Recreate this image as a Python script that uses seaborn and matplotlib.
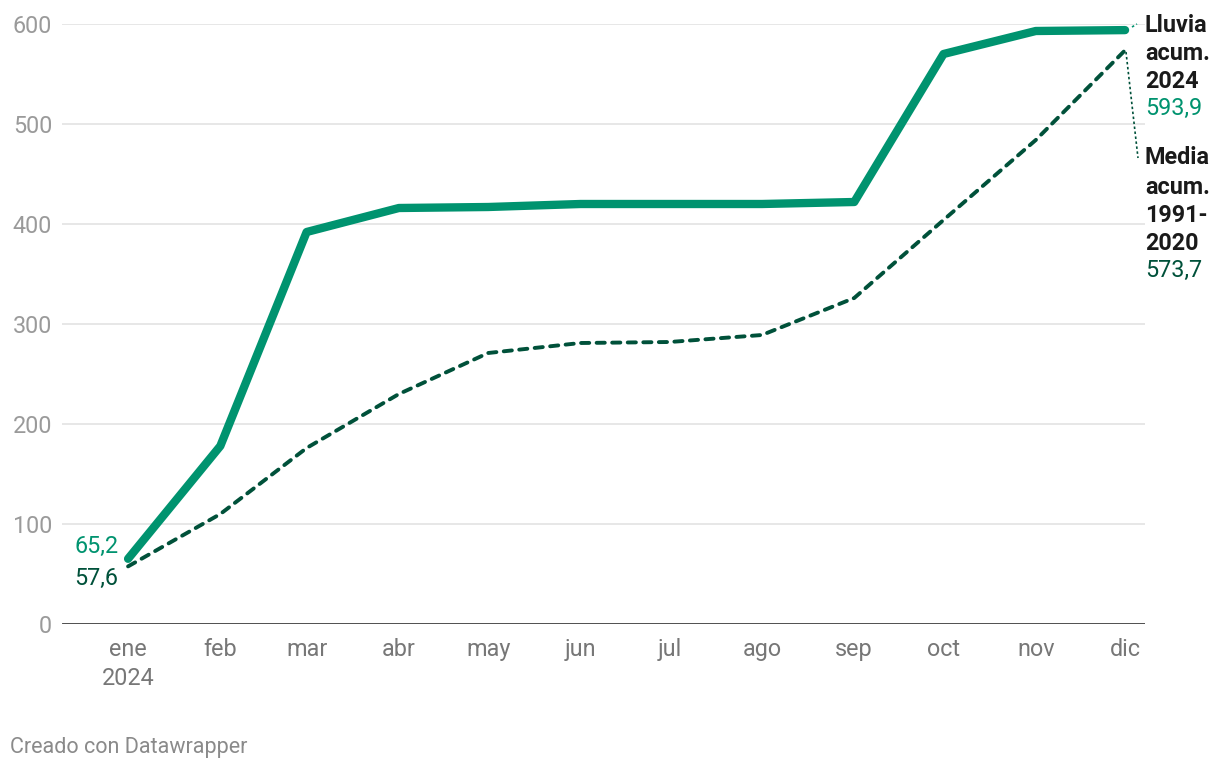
import matplotlib
matplotlib.use("Agg")
import matplotlib.pyplot as plt
import matplotlib.dates as mdates
import seaborn as sns
import pandas as pd
import numpy as np

months = ["ene\n2024", "feb", "mar", "abr", "may", "jun", "jul", "ago", "sep", "oct", "nov", "dic"]
dates = pd.date_range("2024-01-01", periods=12, freq="MS")
lluvia_2024 = [65.2, 178, 392, 416, 417, 420, 420, 420, 422, 570, 593, 593.9]
media_1991_2020 = [57.6, 110, 176, 230, 271, 281, 282, 289, 326, 404, 484, 573.7]

sns.set_theme(style="white")
plt.rcParams['font.family'] = ['Roboto', 'DejaVu Sans']

GREEN = "#00936f"
DARK = "#00513a"
FS = 16.8

fig = plt.figure(figsize=(12.2, 7.7), dpi=100)
ax = fig.add_axes([62/1220, 1-624/770, (1145-62)/1220, 600/770])

df = pd.DataFrame({"fecha": dates, "lluvia": lluvia_2024, "media": media_1991_2020})

for y in [100, 200, 300, 400, 500, 600]:
    ax.axhline(y, color="#e3e3e3", lw=1.2, zorder=0)
ax.axhline(0, color="#1a1a1a", lw=1.8, zorder=3)

sns.lineplot(data=df, x="fecha", y="media", ax=ax, color=DARK, lw=2.8,
             linestyle=(0, (2.1, 1.9)), zorder=4, clip_on=False)
ax.lines[-1].set_dash_capstyle("round")
sns.lineplot(data=df, x="fecha", y="lluvia", ax=ax, color=GREEN, lw=6,
             zorder=5, clip_on=False, solid_capstyle="round")

x0 = mdates.date2num(dates[0])
xn = mdates.date2num(dates[-1])
ax.set_xlim(x0 - 22.2, xn + 6.7)
ax.set_ylim(0, 600)
ax.set_xticks(dates)
ax.set_xticklabels(months, color="#777777", fontsize=FS, linespacing=1.35)
ax.set_yticks([0, 100, 200, 300, 400, 500, 600])
ax.set_yticklabels(["0", "100", "200", "300", "400", "500", "600"], color="#9a9a9a", fontsize=FS)
ax.tick_params(axis="x", length=0, pad=10)
ax.tick_params(axis="y", length=0, pad=7)
ax.set_xlabel("")
ax.set_ylabel("")
for s in ax.spines.values():
    s.set_visible(False)

# start labels
ax.text(x0 - 3.3, lluvia_2024[0] + 12, "65,2", color=GREEN, fontsize=FS, ha="right", va="center")
ax.text(x0 - 3.3, media_1991_2020[0] - 12, "57,6", color=DARK, fontsize=FS, ha="right", va="center")

# end labels
tx = 1145/1220
def ft(ypx, s, **kw):
    fig.text(tx, 1-ypx/770, s, fontsize=FS, ha="left", va="center", **kw)

for ypx, s in zip([25, 54, 82], ["Lluvia", "acum.", "2024"]):
    ft(ypx, s, fontweight="bold", color="#1a1a1a")
ft(108, "593,9", color=GREEN)
for ypx, s in zip([158, 187, 215, 243], ["Media", "acum.", "1991-", "2020"]):
    ft(ypx, s, fontweight="bold", color="#1a1a1a")
ft(270, "573,7", color=DARK)

# connectors
fig.add_artist(plt.Line2D([1132/1220, 1137/1220], [1-27/770, 1-24/770], color=GREEN, lw=1.2,
                          linestyle=(0, (1.5, 1.5))))
fig.add_artist(plt.Line2D([1126/1220, 1138/1220], [1-52/770, 1-158/770], color=DARK, lw=1.2,
                          linestyle=(0, (1.5, 1.5))))

fig.text(10/1220, 1-747/770, "Creado con Datawrapper", fontsize=15.5, color="#8a8a8a", ha="left", va="center")

fig.savefig("out.png", dpi=100, facecolor="white")
